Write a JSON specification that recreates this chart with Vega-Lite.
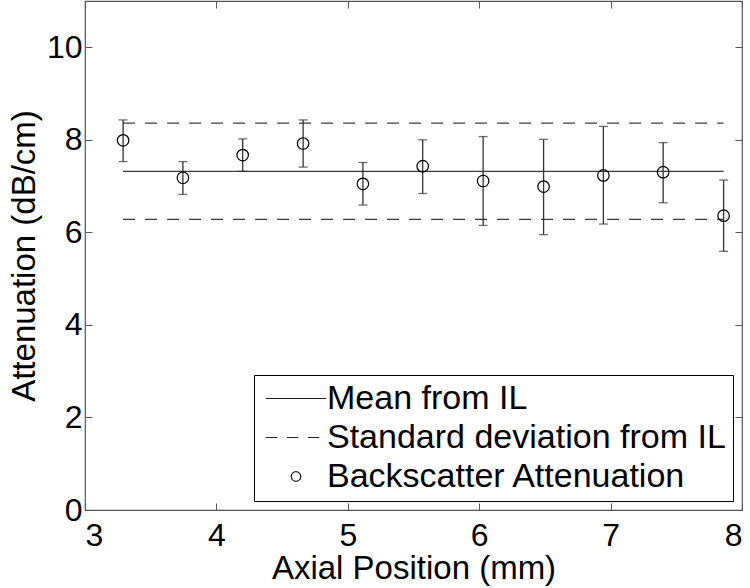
{
  "$schema": "https://vega.github.io/schema/vega-lite/v6.json",
  "autosize": {"type": "none"},
  "width": 657,
  "height": 509,
  "padding": {"left": 85, "top": 1, "right": 8, "bottom": 78},
  "background": "white",
  "config": {
    "font": "Liberation Sans",
    "view": {"stroke": "#555", "strokeWidth": 1.2},
    "legend": {"strokeWidth": 1},
    "axis": {
      "domain": false,
      "grid": false,
      "tickColor": "#555",
      "tickSize": -7,
      "labelFont": "Liberation Sans",
      "labelFontSize": 32,
      "labelColor": "black",
      "titleFont": "Liberation Sans",
      "titleFontSize": 33,
      "titleFontWeight": "normal",
      "titleColor": "black"
    }
  },
  "datasets": {
    "mean": [
      {"x": 3.29, "y": 7.32},
      {"x": 7.86, "y": 7.32}
    ],
    "sd": [
      {"line": "upper", "x": 3.29, "y": 8.36},
      {"line": "upper", "x": 7.86, "y": 8.36},
      {"line": "lower", "x": 3.29, "y": 6.28},
      {"line": "lower", "x": 7.86, "y": 6.28}
    ],
    "points": [
      {"series": "Backscatter Attenuation", "x": 3.29, "y": 7.99, "lo": 7.53, "hi": 8.43},
      {"series": "Backscatter Attenuation", "x": 3.745, "y": 7.18, "lo": 6.82, "hi": 7.53},
      {"series": "Backscatter Attenuation", "x": 4.2, "y": 7.67, "lo": 7.32, "hi": 8.02},
      {"series": "Backscatter Attenuation", "x": 4.66, "y": 7.92, "lo": 7.41, "hi": 8.43},
      {"series": "Backscatter Attenuation", "x": 5.115, "y": 7.05, "lo": 6.59, "hi": 7.51},
      {"series": "Backscatter Attenuation", "x": 5.57, "y": 7.43, "lo": 6.84, "hi": 8.0},
      {"series": "Backscatter Attenuation", "x": 6.03, "y": 7.11, "lo": 6.15, "hi": 8.07},
      {"series": "Backscatter Attenuation", "x": 6.49, "y": 6.99, "lo": 5.95, "hi": 8.01},
      {"series": "Backscatter Attenuation", "x": 6.945, "y": 7.23, "lo": 6.18, "hi": 8.29},
      {"series": "Backscatter Attenuation", "x": 7.4, "y": 7.3, "lo": 6.64, "hi": 7.94},
      {"series": "Backscatter Attenuation", "x": 7.86, "y": 6.36, "lo": 5.59, "hi": 7.13}
    ]
  },
  "layer": [
    {
      "data": {"name": "mean"},
      "mark": {"type": "line", "color": "#3a3a3a", "strokeWidth": 1.2},
      "encoding": {
        "x": {
          "field": "x", "type": "quantitative",
          "scale": {"domain": [3, 8], "nice": false, "zero": false},
          "axis": {"orient": "bottom", "values": [3, 4, 5, 6, 7, 8], "title": "Axial Position (mm)", "labelPadding": 17, "titlePadding": 1}
        },
        "y": {
          "field": "y", "type": "quantitative",
          "scale": {"domain": [0, 11], "nice": false},
          "axis": {"orient": "left", "values": [0, 2, 4, 6, 8, 10], "title": "Attenuation (dB/cm)", "labelPadding": 10, "titlePadding": 5}
        }
      }
    },
    {
      "data": {"name": "sd"},
      "mark": {"type": "line", "color": "#3a3a3a", "strokeWidth": 1.2, "strokeDash": [12, 10]},
      "encoding": {
        "x": {"field": "x", "type": "quantitative", "axis": null},
        "y": {"field": "y", "type": "quantitative", "axis": null},
        "detail": {"field": "line", "type": "nominal"}
      }
    },
    {
      "data": {"name": "points"},
      "mark": {"type": "rule", "color": "#333", "strokeWidth": 1.3},
      "encoding": {
        "x": {"field": "x", "type": "quantitative", "axis": null},
        "y": {"field": "lo", "type": "quantitative", "axis": null},
        "y2": {"field": "hi"}
      }
    },
    {
      "data": {"name": "points"},
      "mark": {"type": "tick", "orient": "horizontal", "color": "#333", "size": 9, "thickness": 1.3},
      "encoding": {
        "x": {"field": "x", "type": "quantitative", "axis": null},
        "y": {"field": "lo", "type": "quantitative", "axis": null}
      }
    },
    {
      "data": {"name": "points"},
      "mark": {"type": "tick", "orient": "horizontal", "color": "#333", "size": 9, "thickness": 1.3},
      "encoding": {
        "x": {"field": "x", "type": "quantitative", "axis": null},
        "y": {"field": "hi", "type": "quantitative", "axis": null}
      }
    },
    {
      "data": {"name": "points"},
      "mark": {"type": "point", "filled": false, "color": "black", "size": 5170, "strokeWidth": 1.2, "opacity": 1},
      "encoding": {
        "x": {"field": "x", "type": "quantitative", "axis": {"orient": "top", "values": [3, 4, 5, 6, 7, 8], "labels": false, "title": null}},
        "y": {"field": "y", "type": "quantitative", "axis": {"orient": "right", "values": [0, 2, 4, 6, 8, 10], "labels": false, "title": null}},
        "shape": {
          "field": "series", "type": "nominal",
          "scale": {
            "domain": ["Mean from IL", "Standard deviation from IL", "Backscatter Attenuation"],
            "range": [
              "M-1,0H1",
              "M-1,0H-0.62M-0.3,0H0.08M0.4,0H0.78",
              "M0.16,0A0.16,0.16,0,1,1,-0.16,0A0.16,0.16,0,1,1,0.16,0Z"
            ]
          },
          "legend": {
            "title": null,
            "orient": "bottom-right",
            "offset": 9,
            "padding": 7,
            "strokeColor": "black",
            "fillColor": "white",
            "labelFont": "Liberation Sans",
            "labelFontSize": 34,
            "labelColor": "black",
            "labelOffset": 0,
            "labelLimit": 600,
            "rowPadding": 4,
            "clipHeight": 33,
            "symbolSize": 3600,
            "symbolStrokeColor": "#222",
            "symbolStrokeWidth": 1.2,
            "symbolFillColor": "transparent",
            "symbolOffset": 4
          }
        }
      }
    }
  ],
  "resolve": {"axis": {"x": "independent", "y": "independent"}}
}
